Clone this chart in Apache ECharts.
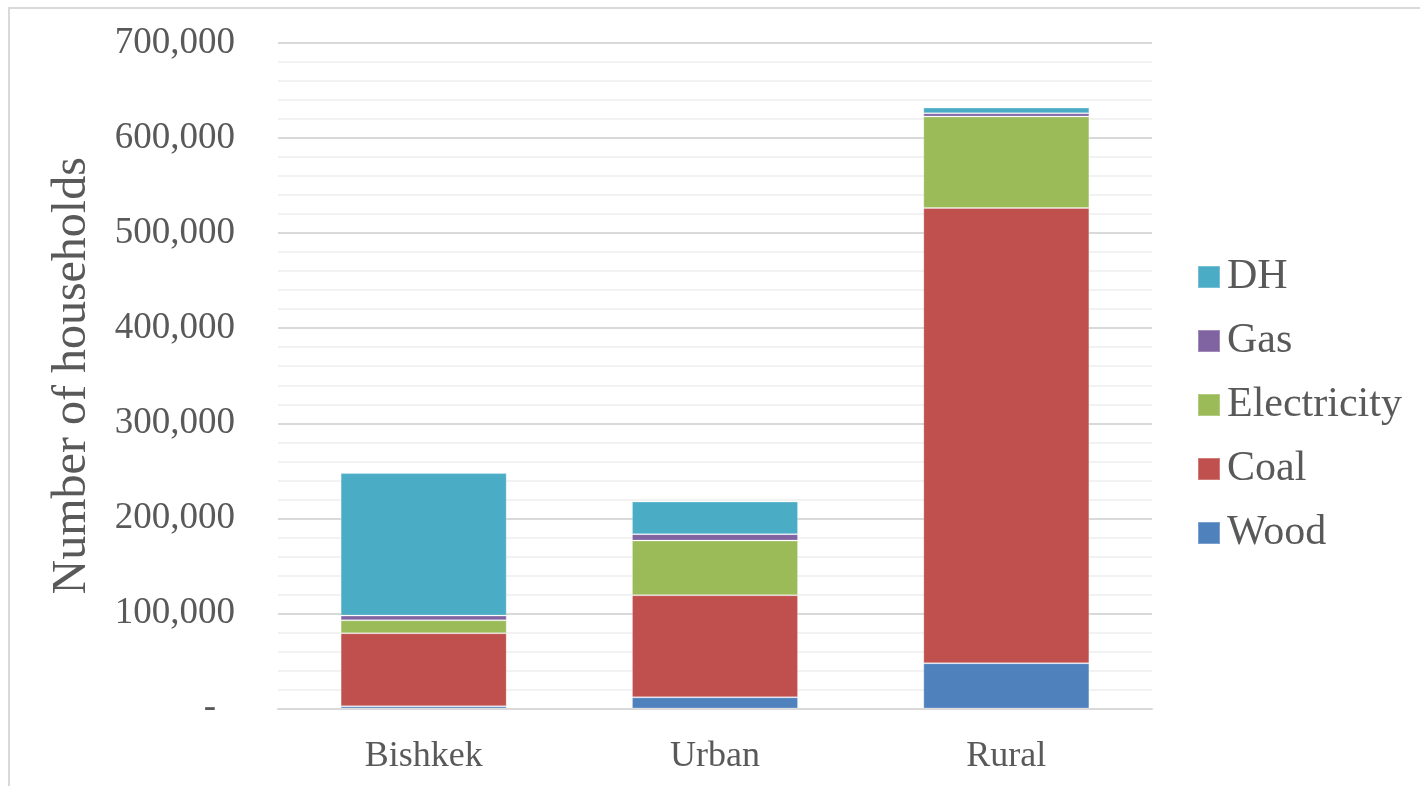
<!DOCTYPE html>
<html>
<head>
<meta charset="utf-8">
<style>
  html, body { margin: 0; padding: 0; background: #ffffff; }
  #chart { width: 1420px; height: 786px; }
</style>
<script src="https://cdn.jsdelivr.net/npm/echarts@6/dist/echarts.min.js"></script>
</head>
<body>
<div id="chart"></div>
<script>
// Households by main heating fuel, by settlement type
const categories = ['Bishkek', 'Urban', 'Rural'];
const wood        = [2300, 11800, 47600];
const coal        = [76900, 107400, 478900];
const electricity = [13600, 57400, 96100];
const gas         = [4900, 6800, 3500];
const dh          = [149900, 34300, 6000];

const seriesNames  = ['Wood', 'Coal', 'Electricity', 'Gas', 'DH'];
const seriesValues = [wood, coal, electricity, gas, dh];
const seriesColors = ['#4f81bd', '#c0504d', '#9bbb59', '#8064a2', '#4bacc6'];

const textColor = '#595959';
const fontFamily = '"Liberation Serif", "Times New Roman", serif';

const chart = echarts.init(document.getElementById('chart'), null, { renderer: 'canvas' });

chart.setOption({
  animation: false,
  backgroundColor: '#ffffff',
  textStyle: { fontFamily: fontFamily, color: textColor },
  graphic: [{
    type: 'rect',
    shape: { x: 9, y: 8, width: 1500, height: 900 },
    style: { fill: 'none', stroke: '#d9d9d9', lineWidth: 2 },
    silent: true
  }],
  grid: { left: 278, right: 268, top: 43, bottom: 77.5, containLabel: false },
  legend: {
    orient: 'vertical',
    left: 1192,
    top: 251,
    itemWidth: 22,
    itemHeight: 22,
    itemGap: 22,
    icon: 'rect',
    data: ['DH', 'Gas', 'Electricity', 'Coal', 'Wood'],
    textStyle: { fontFamily: fontFamily, fontSize: 42, lineHeight: 41, color: textColor, padding: [0, 0, 0, 2] }
  },
  xAxis: {
    type: 'category',
    data: categories,
    axisLine: { show: true, lineStyle: { color: '#d9d9d9', width: 2 } },
    axisTick: { show: false },
    axisLabel: { fontFamily: fontFamily, fontSize: 36, color: textColor, margin: 30 }
  },
  yAxis: {
    type: 'value',
    min: 0,
    max: 700000,
    interval: 100000,
    name: 'Number of households',
    nameLocation: 'middle',
    nameRotate: 90,
    nameGap: 182,
    nameTextStyle: { fontFamily: fontFamily, fontSize: 48, color: textColor },
    axisLine: { show: false },
    axisTick: { show: false },
    splitLine: { show: true, lineStyle: { color: '#d9d9d9', width: 2 } },
    minorTick: { show: false, splitNumber: 5 },
    minorSplitLine: { show: true, lineStyle: { color: '#f2f2f2', width: 2 } },
    axisLabel: {
      fontFamily: fontFamily,
      fontSize: 37,
      color: textColor,
      margin: 43,
      formatter: function (v) {
        if (v === 0) return '{dash|-}';
        return v.toLocaleString('en-US');
      },
      rich: {
        dash: { fontFamily: fontFamily, fontSize: 37, color: textColor, padding: [0, 19, 0, 0] }
      }
    }
  },
  series: seriesNames.map(function (name, i) {
    return {
      name: name,
      type: 'bar',
      stack: 'total',
      barWidth: '57%',
      data: seriesValues[i],
      itemStyle: { color: seriesColors[i], borderColor: 'rgba(255,255,255,0.25)', borderWidth: 1 },
      emphasis: { disabled: true }
    };
  })
});
</script>
</body>
</html>
